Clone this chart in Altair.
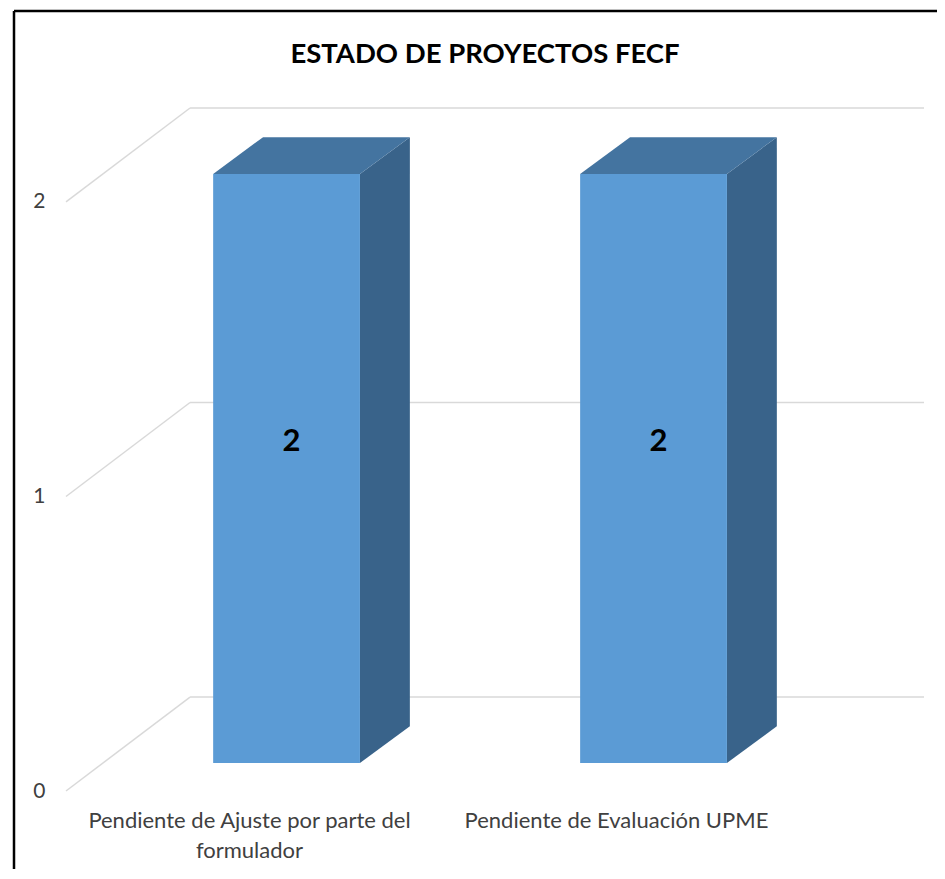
import textwrap
import altair as alt
import pandas as pd

# ---- data ----
categories = ["Pendiente de Ajuste por parte del formulador", "Pendiente de Evaluación UPME"]
values = [2, 2]
y_ticks = [0, 1, 2]
title_text = "ESTADO DE PROYECTOS FECF"

# ---- 3D geometry (in data units) ----
WALL_DX, WALL_DY = 0.338, 0.319      # depth of the back wall
BAR_SX, BAR_SY = 0.101, 0.095        # front face of bars, pushed back
BAR_HW = 0.2                         # half width of bar face
BAR_DX, BAR_DY = 0.136, 0.125        # depth of bar

X_MIN, X_MAX = -0.5, len(categories) - 0.5
xs = alt.Scale(domain=[X_MIN, X_MAX + WALL_DX], nice=False, zero=False)
ys = alt.Scale(domain=[0, max(y_ticks) + WALL_DY], nice=False, zero=False)

FRONT = "#5B9BD5"
TOP = "#4474A0"
SIDE = "#39638A"
GRID = "#D9D9D9"
FONT = "Lato"

y_axis = alt.Axis(values=y_ticks, domain=False, ticks=False, grid=False,
                  labelPadding=21, labelFont=FONT, labelFontSize=21,
                  labelColor="#404040", title=None)


def X(f):
    return alt.X(f, scale=xs, axis=None)


def Y(f):
    return alt.Y(f, scale=ys, axis=y_axis)


# back-wall gridlines
back = pd.DataFrame({
    "x": [X_MIN + WALL_DX] * len(y_ticks),
    "x2": [X_MAX + WALL_DX] * len(y_ticks),
    "y": [t + WALL_DY for t in y_ticks],
})
diag = pd.DataFrame({
    "x": [X_MIN] * len(y_ticks),
    "x2": [X_MIN + WALL_DX] * len(y_ticks),
    "y": y_ticks,
    "y2": [t + WALL_DY for t in y_ticks],
})

front_rows, side_rows, top_rows, lab_rows, cat_rows = [], [], [], [], []
for i, (c, v) in enumerate(zip(categories, values)):
    cx = i + BAR_SX
    front_rows.append({"bar": i, "x": cx - BAR_HW, "x2": cx + BAR_HW, "y": BAR_SY, "y2": v + BAR_SY})
    side_rows.append({"bar": i, "x": cx + BAR_HW, "y": BAR_SY, "y2": v + BAR_SY})
    side_rows.append({"bar": i, "x": cx + BAR_HW + BAR_DX, "y": BAR_SY + BAR_DY, "y2": v + BAR_SY + BAR_DY})
    top_rows.append({"bar": i, "y": v + BAR_SY, "x": cx - BAR_HW, "x2": cx + BAR_HW})
    top_rows.append({"bar": i, "y": v + BAR_SY + BAR_DY, "x": cx - BAR_HW + BAR_DX, "x2": cx + BAR_HW + BAR_DX})
    lab_rows.append({"x": cx, "y": v / 2 + BAR_SY, "t": str(v)})
    cat_rows.append({"x": i, "y": 0, "t": "\n".join(textwrap.wrap(c, 33))})

front = pd.DataFrame(front_rows)
side = pd.DataFrame(side_rows)
top = pd.DataFrame(top_rows)
labs = pd.DataFrame(lab_rows)
cats = pd.DataFrame(cat_rows)

grid_back = alt.Chart(back).mark_rule(color=GRID, strokeWidth=1.5).encode(
    x=X("x:Q"), x2="x2", y=Y("y:Q")
)
grid_diag = alt.Chart(diag).mark_rule(color=GRID, strokeWidth=1.5).encode(
    x=X("x:Q"), x2="x2", y=Y("y:Q"), y2="y2",
)
side_m = alt.Chart(side).mark_area(color=SIDE).encode(
    x=X("x:Q"), y=Y("y:Q"), y2="y2", detail="bar:N"
)
top_m = alt.Chart(top).mark_area(color=TOP, orient="horizontal").encode(
    y=Y("y:Q"), x=X("x:Q"), x2="x2", detail="bar:N"
)
front_m = alt.Chart(front).mark_rect(color=FRONT).encode(
    x=X("x:Q"), x2="x2", y=Y("y:Q"), y2="y2"
)
lab_m = alt.Chart(labs).mark_text(font=FONT, fontSize=31, fontWeight="bold", color="black",
                                  baseline="middle", dx=5, dy=-26).encode(
    x=X("x:Q"), y=Y("y:Q"), text="t:N"
)
cat_m = alt.Chart(cats).mark_text(font=FONT, fontSize=22, color="#404040", baseline="top",
                                  lineBreak="\n", lineHeight=30, dy=20).encode(
    x=X("x:Q"), y=Y("y:Q"), text="t:N"
)

one = pd.DataFrame({"a": [0]})
title_m = alt.Chart(one).mark_text(text=title_text, font=FONT, fontSize=27.5, fontWeight="bold",
                                   color="black", baseline="middle", align="center").encode(
    x=alt.value(419), y=alt.value(-53)
)
frame_left = alt.Chart(one).mark_rule(color="black", strokeWidth=2.5).encode(
    x=alt.value(-52), y=alt.value(-97), y2=alt.value(800)
)
frame_top = alt.Chart(one).mark_rule(color="black", strokeWidth=2.5).encode(
    x=alt.value(-52), x2=alt.value(900), y=alt.value(-97)
)

chart = alt.layer(
    grid_back, grid_diag, side_m, top_m, front_m, lab_m, cat_m, title_m, frame_left, frame_top
).properties(
    width=858, height=683,
    autosize=alt.AutoSizeParams(type="none"),
    padding={"left": 58, "top": 100, "right": 13, "bottom": 78},
).configure(background="white").configure_view(stroke=None)

chart.save("out.html", embed_options={"renderer": "svg", "actions": False})
